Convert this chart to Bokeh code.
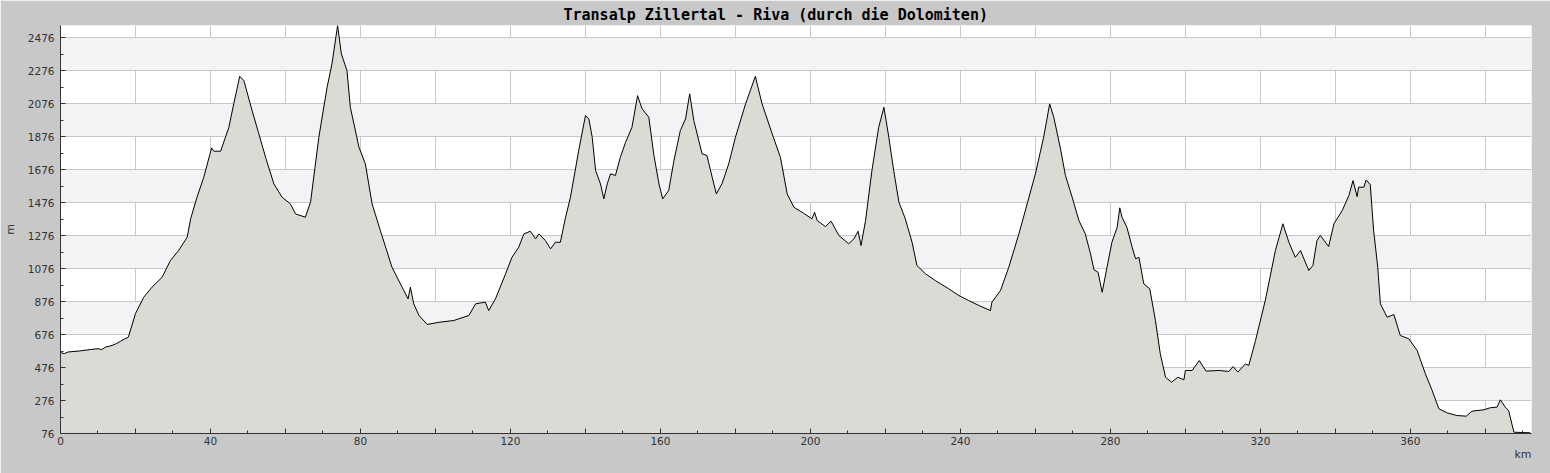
from bokeh.plotting import figure
from bokeh.models import Range1d, FixedTicker, CustomJSTickFormatter, Title
from bokeh.embed import file_html
from bokeh.resources import INLINE

# ---- data ----
km = [0, 1, 2, 5, 8, 10, 11, 12, 13, 14, 15, 16, 17, 18.1, 20, 22.2, 24.4, 27.1, 29.3, 31.5, 33.8, 34.7, 36.4,
      38.2, 40.3, 40.9, 42.7, 44.9, 46.2, 47.8, 48.9, 51.1, 52.9, 54.7, 56.9, 59.1, 61.3, 62.7, 65.3,
      66.7, 68.9, 71.1, 72.4, 73.9, 74.9, 76.4, 77.3, 79.6, 81.3, 83.1, 85.3, 88.4, 91.1, 92.7, 93.3,
      94.2, 95.6, 97.8, 100.9, 104.9, 108.9, 110.7, 113.3, 114.2, 116.0, 118.7, 120.4, 122.2, 123.6,
      125.3, 126.7, 127.6, 129.3, 130.7, 132.0, 133.3, 134.7, 136.0, 138.2, 140.0, 140.9, 141.8, 142.7,
      144.0, 144.9, 145.8, 146.7, 148.0, 149.3, 150.7, 152.4, 153.9, 155.1, 156.9, 158.2, 159.6, 160.6,
      162.2, 163.6, 165.3, 166.7, 167.8, 168.9, 171.1, 172.4, 173.8, 174.9, 176.4, 178.2, 180.0, 182.7,
      185.3, 187.1, 189.8, 192.0, 193.8, 195.6, 198.2, 200.4, 201.1, 201.8, 204.0, 205.5, 207.6, 210.2,
      211.6, 212.7, 213.5, 214.7, 216.4, 218.2, 219.6, 220.9, 222.2, 223.6, 225.3, 227.1, 228.4, 230.7,
      233.3, 236.9, 239.6, 242.2, 244.9, 248.0, 248.4, 250.7, 252.9, 255.6, 257.8, 260.0, 262.2, 263.8,
      264.9, 266.7, 268.0, 269.8, 271.6, 273.3, 274.7, 275.6, 276.7, 277.8, 279.1, 280.4, 281.8, 282.5,
      283.1, 284.4, 285.8, 286.7, 287.6, 288.9, 290.5, 292.0, 293.3, 294.7, 296.3, 298.0, 299.6, 300.0,
      301.8, 303.7, 305.5, 308.9, 311.6, 312.7, 314.0, 316.0, 316.9, 318.7, 321.3, 324.0, 326.0, 327.6,
      329.3, 330.7, 332.9, 334.0, 335.1, 336.0, 338.2, 339.6, 341.8, 343.6, 344.7, 345.8, 346.2, 347.6,
      348.2, 349.3, 350.2, 351.3, 352.0, 353.8, 355.6, 357.3, 359.6, 361.8, 364.0, 365.8, 367.6, 369.8,
      372.4, 374.9, 376.4, 379.6, 381.3, 383.1, 384.0, 385.3, 386.2, 387.6, 392.0]
elev = [567, 560, 570, 576, 585, 590, 585, 600, 605, 612, 622, 635, 648, 660, 803, 902, 963, 1023, 1124, 1185, 1266, 1377, 1508,
        1629, 1807, 1787, 1787, 1932, 2074, 2241, 2215, 2033, 1892, 1750, 1589, 1508, 1468, 1407, 1387,
        1480, 1872, 2175, 2316, 2549, 2377, 2276, 2053, 1811, 1710, 1468, 1306, 1084, 963, 892, 963,
        862, 791, 737, 750, 761, 791, 862, 872, 821, 892, 1044, 1144, 1205, 1286,
        1302, 1256, 1286, 1246, 1195, 1235, 1235, 1387, 1508, 1791, 2003, 1983, 1872, 1670,
        1589, 1498, 1589, 1650, 1640, 1750, 1841, 1932, 2124, 2044, 1993, 1771, 1589, 1498,
        1549, 1730, 1912, 1983, 2135, 1973, 1771, 1761, 1629, 1528, 1589, 1710, 1872, 2074,
        2241, 2074, 1892, 1750, 1528, 1447, 1411, 1377, 1417, 1367, 1330, 1363, 1276, 1226,
        1256, 1302, 1215, 1367, 1670, 1932, 2053, 1872, 1670, 1478, 1377, 1235, 1094, 1044,
        1003, 953, 912, 882, 852, 821, 872, 943, 1084, 1286, 1468, 1650, 1872, 2074,
        1993, 1801, 1640, 1508, 1367, 1286, 1165, 1068, 1054, 932, 1084, 1235, 1326, 1444,
        1387, 1326, 1205, 1135, 1144, 983, 953, 761, 559, 417, 387, 417, 401, 458,
        458, 518, 454, 458, 452, 482, 448, 498, 488, 640, 882, 1185, 1347, 1235,
        1144, 1185, 1064, 1094, 1246, 1276, 1209, 1347, 1427, 1518, 1609, 1512, 1569, 1569,
        1613, 1585, 1306, 1084, 862, 781, 797, 670, 650, 579, 438, 337, 226, 201,
        185, 181, 211, 220, 232, 236, 280, 236, 215, 84, 80]

y_ticks = [76, 276, 476, 676, 876, 1076, 1276, 1476, 1676, 1876, 2076, 2276, 2476]
y_minor = [176, 376, 576, 776, 976, 1176, 1376, 1576, 1776, 1976, 2176, 2376]
x_ticks = list(range(0, 400, 20))
x_minor = list(range(10, 400, 20))

title_text = "Transalp Zillertal - Riva (durch die Dolomiten)"
x_unit = "km"
y_unit = "m"

BG = "#c8c8c8"
FILL = "#dbdad5"
GRID = "#c8c8c8"
BAND = "#f3f2f5"
AX = "#333333"

p = figure(width=1550, height=473, output_backend="svg", toolbar_location=None,
           x_range=Range1d(0, 392.3), y_range=Range1d(76, 2549),
           min_border_left=60, min_border_right=19, min_border_top=25, min_border_bottom=40)

p.background_fill_color = "white"
p.border_fill_color = BG
p.outline_line_color = None

p.title.text = title_text
p.title.align = "left"
p.title.text_font = "DejaVu Sans Mono"
p.title.text_font_size = "15px"
p.title.text_font_style = "bold"
p.title.text_color = "black"
p.title.standoff = 4
p.title.offset = 503

# grids
p.xaxis.ticker = FixedTicker(ticks=x_ticks, minor_ticks=x_minor)
p.yaxis.ticker = FixedTicker(ticks=y_ticks, minor_ticks=y_minor)
p.xgrid.grid_line_color = GRID
p.ygrid.grid_line_color = GRID
p.ygrid.band_fill_color = BAND
p.ygrid.band_fill_alpha = 1.0

p.xaxis.formatter = CustomJSTickFormatter(code="return (Math.round(tick) % 40 == 0) ? Math.round(tick).toString() : '';")

for ax in (p.xaxis, p.yaxis):
    ax.axis_line_color = AX
    ax.major_tick_line_color = AX
    ax.minor_tick_line_color = AX
    ax.major_tick_in = 5
    ax.major_tick_out = 0
    ax.minor_tick_in = 3
    ax.minor_tick_out = 0
    ax.major_label_text_font = "DejaVu Sans"
    ax.major_label_text_font_size = "10.5px"
    ax.major_label_text_color = AX

p.xaxis.major_label_standoff = 3
p.yaxis.major_label_standoff = 6
p.yaxis.axis_label = y_unit
p.yaxis.axis_label_text_font = "DejaVu Sans"
p.yaxis.axis_label_text_font_size = "11px"
p.yaxis.axis_label_text_font_style = "normal"
p.yaxis.axis_label_text_color = AX
p.yaxis.axis_label_standoff = 8

# profile
base = [y_ticks[0]] * len(km)
p.varea(x=km, y1=base, y2=elev, fill_color=FILL)
p.line(km, elev, line_color="black", line_width=1)

unit_title = Title(text=x_unit, align="right", text_font="DejaVu Sans", text_font_size="11px",
                   text_font_style="normal", text_color=AX, standoff=-4, offset=0)
p.add_layout(unit_title, "below")

html = file_html(p, INLINE)
html = html.replace("<body>", '<body style="background:%s">' % BG, 1)
open("out.html", "w").write(html)
